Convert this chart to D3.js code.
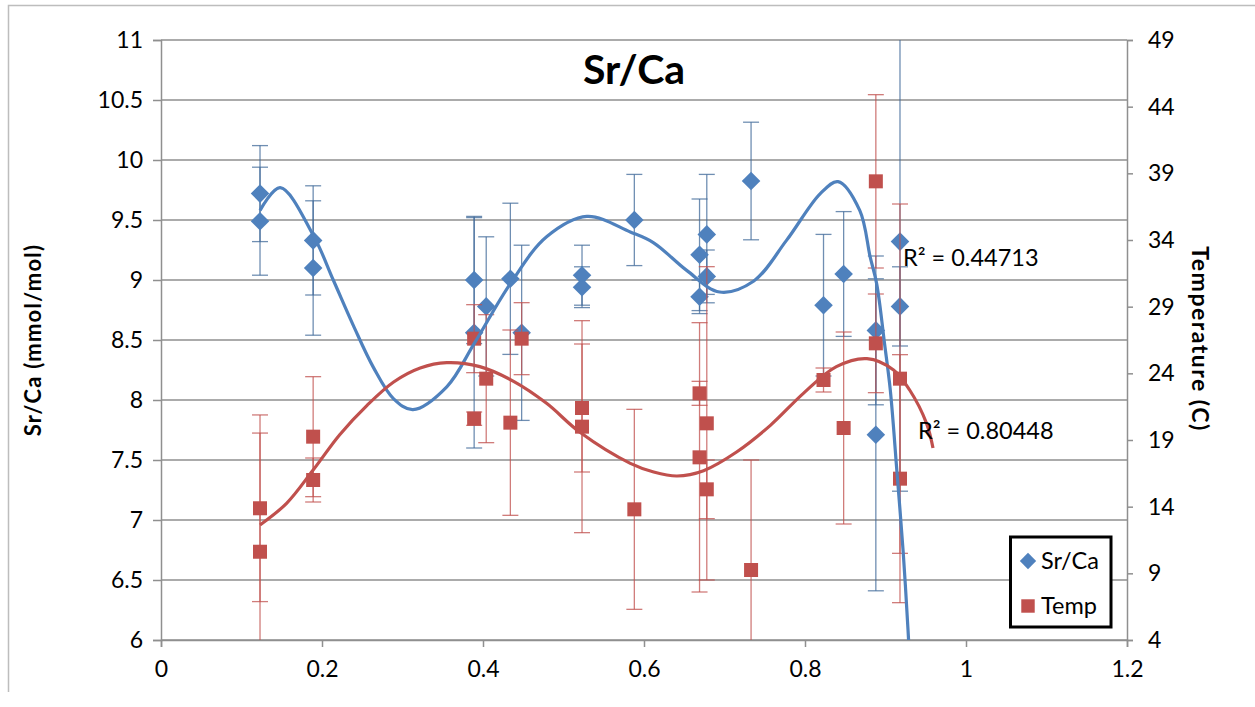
<!DOCTYPE html>
<html>
<head>
<meta charset="utf-8">
<script src="https://cdn.jsdelivr.net/npm/d3@7"></script>
<style>
  html, body { margin: 0; padding: 0; background: #fff; }
  svg { display: block; font-family: Lato, "Open Sans", sans-serif; }
</style>
</head>
<body>
<div id="chart"></div>
<script>
// --- datos ---
const sampleX = [0.123, 0.123, 0.189, 0.189, 0.389, 0.389, 0.404, 0.434, 0.448, 0.523, 0.523, 0.588,
                 0.669, 0.669, 0.678, 0.678, 0.733, 0.823, 0.848, 0.888, 0.888, 0.918, 0.918];
const srca    = [9.72, 9.49, 9.33, 9.10, 9.00, 8.56, 8.78, 9.01, 8.56, 9.04, 8.94, 9.50,
                 9.21, 8.86, 9.38, 9.03, 9.825, 8.79, 9.05, 8.58, 7.71, 9.32, 8.78];
const srcaErr = [0.40, 0.45, 0.455, 0.56, 0.53, 0.96, 0.58, 0.63, 0.73, 0.25, 0.17, 0.38,
                 0.465, 0.14, 0.50, 0.22, 0.49, 0.59, 0.52, 0.62, 1.30, 2.08, 0.33];
const temp    = [13.88, 10.62, 19.25, 16.0, 26.6, 20.6, 23.6, 20.3, 26.6, 21.4, 20.0, 13.8,
                 22.5, 17.7, 20.25, 15.3, 9.25, 23.5, 19.9, 38.4, 26.25, 23.6, 16.1];
const tempErr = [7.0, 8.9, 4.5, 1.65, 2.55, 0.5, 4.8, 6.95, 2.7, 4.8, 7.95, 7.5,
                 0.9, 10.1, 11.75, 2.2, 8.25, 0.9, 7.2, 6.5, 3.7, 13.1, 9.3];

// líneas de tendencia (polinómicas) leídas punto a punto
const srTrendX = [0.123, 0.148, 0.189, 0.214, 0.239, 0.264, 0.289, 0.313, 0.355, 0.389, 0.434, 0.479,
                  0.529, 0.583, 0.612, 0.653, 0.694, 0.736, 0.777, 0.819, 0.841, 0.868, 0.881, 0.889,
                  0.899, 0.906, 0.914, 0.922, 0.928, 0.934];
const srTrendY = [9.58, 9.77, 9.375, 9.0, 8.62, 8.27, 8.01, 7.92, 8.11, 8.47, 8.97, 9.36,
                  9.53, 9.40, 9.31, 9.08, 8.90, 8.99, 9.33, 9.72, 9.82, 9.58, 9.19, 8.97,
                  8.46, 8.08, 7.42, 6.73, 6.08, 5.33];
const tempTrendX = [0.123, 0.156, 0.189, 0.222, 0.256, 0.289, 0.322, 0.355, 0.396, 0.438, 0.479, 0.520,
                    0.583, 0.612, 0.641, 0.674, 0.715, 0.757, 0.798, 0.839, 0.877, 0.910, 0.930, 0.951, 0.959];
const tempTrendY = [12.63, 14.25, 16.75, 19.4, 21.6, 23.35, 24.4, 24.8, 24.5, 23.4, 21.75, 19.6,
                    17.25, 16.6, 16.3, 16.7, 18.1, 20.1, 22.5, 24.5, 25.1, 24.25, 22.75, 20.25, 18.4];

const xTicks = [0, 0.2, 0.4, 0.6, 0.8, 1, 1.2];
const leftTicks = [6, 6.5, 7, 7.5, 8, 8.5, 9, 9.5, 10, 10.5, 11];
const rightTicks = [4, 9, 14, 19, 24, 29, 34, 39, 44, 49];
const r2Labels = ['R² = 0.44713', 'R² = 0.80448'];
const seriesNames = ['Sr/Ca', 'Temp'];

const W = 1255, H = 707;
const plot = {left: 161, right: 1127, top: 40, bottom: 640};
const blue = '#4F81BD', red = '#C0504D', grid = '#8f8f8f';
const font = 'Lato, "Open Sans", sans-serif';

const svg = d3.select('#chart').append('svg')
  .attr('width', W).attr('height', H);

// marco exterior del gráfico
svg.append('path')
  .attr('d', `M8.5,692 V5.5 H${W}`)
  .attr('fill', 'none').attr('stroke', '#bdbdbd').attr('stroke-width', 1.5);

const x = d3.scaleLinear().domain([0, 1.2]).range([plot.left, plot.right]);
const yL = d3.scaleLinear().domain([6, 11]).range([plot.bottom, plot.top]);
const yR = d3.scaleLinear().domain([4, 49]).range([plot.bottom, plot.top]);

svg.append('defs').append('clipPath').attr('id', 'clip')
  .append('rect')
  .attr('x', plot.left).attr('y', plot.top)
  .attr('width', plot.right - plot.left).attr('height', plot.bottom - plot.top);

// rejilla horizontal
svg.append('g').selectAll('line')
  .data(leftTicks)
  .join('line')
  .attr('x1', plot.left).attr('x2', plot.right)
  .attr('y1', d => yL(d)).attr('y2', d => yL(d))
  .attr('stroke', grid).attr('stroke-width', 1.5);

// --- ejes ---
function styleAxis(g, size) {
  g.attr('font-family', font);
  g.select('.domain').attr('stroke', grid).attr('stroke-width', 1.5);
  g.selectAll('.tick line').attr('stroke', grid).attr('stroke-width', 1.5);
  g.selectAll('.tick text').attr('fill', '#000').style('font-size', size + 'px');
}

svg.append('g')
  .attr('transform', `translate(0,${plot.bottom})`)
  .call(d3.axisBottom(x).tickValues(xTicks).tickFormat(d => String(d)).tickSizeOuter(0).tickSize(7).tickPadding(14))
  .call(g => styleAxis(g, 23));

svg.append('g')
  .attr('transform', `translate(${plot.left},0)`)
  .call(d3.axisLeft(yL).tickValues(leftTicks).tickFormat(d => String(d)).tickSizeOuter(0).tickSize(8).tickPadding(10))
  .call(g => styleAxis(g, 23));

svg.append('g')
  .attr('transform', `translate(${plot.right},0)`)
  .call(d3.axisRight(yR).tickValues(rightTicks).tickFormat(d => String(d)).tickSizeOuter(0).tickSize(6).tickPadding(15))
  .call(g => styleAxis(g, 23));

// títulos
svg.append('text')
  .attr('x', 634).attr('y', 84)
  .attr('text-anchor', 'middle')
  .style('font-weight', 700).style('font-size', '41px')
  .text('Sr/Ca');

svg.append('text')
  .attr('transform', 'translate(41,340) rotate(-90)')
  .attr('text-anchor', 'middle')
  .style('font-weight', 700).style('font-size', '22px').style('letter-spacing', '1.2px')
  .text('Sr/Ca (mmol/mol)');

svg.append('text')
  .attr('transform', 'translate(1192,339) rotate(90)')
  .attr('text-anchor', 'middle')
  .style('font-weight', 700).style('font-size', '23px').style('letter-spacing', '1.5px')
  .text('Temperature (C)');

// --- barras de error, marcadores y tendencias ---
const marks = svg.append('g').attr('clip-path', 'url(#clip)');
const cap = 8;

function errorBars(vals, errs, yScale, color) {
  const g = marks.append('g')
    .attr('stroke', color).attr('stroke-width', 1.3).attr('stroke-opacity', 0.75);
  const bars = g.selectAll('g').data(vals.map((v, i) => ({x: sampleX[i], v, e: errs[i]}))).join('g');
  bars.append('line')
    .attr('x1', d => x(d.x)).attr('x2', d => x(d.x))
    .attr('y1', d => yScale(d.v + d.e)).attr('y2', d => yScale(d.v - d.e));
  bars.append('line')
    .attr('x1', d => x(d.x) - cap).attr('x2', d => x(d.x) + cap)
    .attr('y1', d => yScale(d.v + d.e)).attr('y2', d => yScale(d.v + d.e));
  bars.append('line')
    .attr('x1', d => x(d.x) - cap).attr('x2', d => x(d.x) + cap)
    .attr('y1', d => yScale(d.v - d.e)).attr('y2', d => yScale(d.v - d.e));
}

const diamond = d3.symbol().type(d3.symbolDiamond2).size(220);
const square = d3.symbol().type(d3.symbolSquare2).size(250);

errorBars(srca, srcaErr, yL, '#3f6898');
marks.append('g').selectAll('path')
  .data(srca)
  .join('path')
  .attr('transform', (d, i) => `translate(${x(sampleX[i])},${yL(d)})`)
  .attr('d', diamond)
  .attr('fill', blue);

errorBars(temp, tempErr, yR, red);
marks.append('g').selectAll('path')
  .data(temp)
  .join('path')
  .attr('transform', (d, i) => `translate(${x(sampleX[i])},${yR(d)})`)
  .attr('d', square)
  .attr('fill', red);

const srLine = d3.line().curve(d3.curveCatmullRom.alpha(0.5))
  .x((d, i) => x(srTrendX[i])).y(d => yL(d));
const tLine = d3.line().curve(d3.curveCatmullRom.alpha(0.5))
  .x((d, i) => x(tempTrendX[i])).y(d => yR(d));

marks.append('path')
  .datum(srTrendY)
  .attr('fill', 'none').attr('stroke', blue).attr('stroke-width', 3.2)
  .attr('d', srLine);

marks.append('path')
  .datum(tempTrendY)
  .attr('fill', 'none').attr('stroke', red).attr('stroke-width', 3.2)
  .attr('d', tLine);

// etiquetas R²
svg.append('text').attr('x', 903).attr('y', 266)
  .style('font-size', '23.5px').text(r2Labels[0]);
svg.append('text').attr('x', 918).attr('y', 439)
  .style('font-size', '23.5px').text(r2Labels[1]);

// --- leyenda ---
const leg = svg.append('g');
leg.append('rect')
  .attr('x', 1010.5).attr('y', 537).attr('width', 100.5).attr('height', 90)
  .attr('fill', '#fff').attr('stroke', '#000').attr('stroke-width', 3);
leg.append('path').attr('transform', 'translate(1028,561)')
  .attr('d', d3.symbol().type(d3.symbolDiamond2).size(170)).attr('fill', blue);
leg.append('path').attr('transform', 'translate(1028,606)')
  .attr('d', d3.symbol().type(d3.symbolSquare2).size(230)).attr('fill', red);
leg.selectAll('text.lbl')
  .data(seriesNames)
  .join('text')
  .attr('class', 'lbl')
  .attr('x', 1041).attr('y', (d, i) => 569 + i * 45)
  .style('font-size', '23.5px')
  .text(d => d);
</script>
</body>
</html>
